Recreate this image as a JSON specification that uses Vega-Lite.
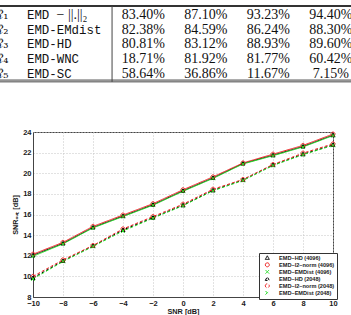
{
  "$schema": "https://vega.github.io/schema/vega-lite/v6.json",
  "width": 300,
  "height": 165,
  "autosize": "none",
  "padding": {"left": 33, "top": 132, "right": 18, "bottom": 18},
  "background": "white",
  "config": {
    "view": {"stroke": "#444", "strokeWidth": 1},
    "axis": {
      "domainColor": "#444",
      "domainWidth": 1,
      "grid": true,
      "gridColor": "#c4c4c4",
      "gridDash": [1, 2],
      "gridWidth": 1,
      "ticks": false,
      "labelOverlap": false,
      "labelFlush": false,
      "labelBound": false,
      "labelFont": "Liberation Sans",
      "labelFontSize": 7.5,
      "labelFontWeight": "bold",
      "labelColor": "#1a1a1a",
      "labelPadding": 2,
      "titleFont": "Liberation Sans",
      "titleFontSize": 7.3,
      "titleFontWeight": "bold",
      "titleColor": "#1a1a1a"
    }
  },
  "datasets": {
    "snr": [
      {"series": "EMD–HD (4096)", "snr": -10, "out": 12.05},
      {"series": "EMD–HD (4096)", "snr": -8, "out": 13.2},
      {"series": "EMD–HD (4096)", "snr": -6, "out": 14.75},
      {"series": "EMD–HD (4096)", "snr": -4, "out": 15.85},
      {"series": "EMD–HD (4096)", "snr": -2, "out": 16.95},
      {"series": "EMD–HD (4096)", "snr": 0, "out": 18.3},
      {"series": "EMD–HD (4096)", "snr": 2, "out": 19.55},
      {"series": "EMD–HD (4096)", "snr": 4, "out": 20.95},
      {"series": "EMD–HD (4096)", "snr": 6, "out": 21.75},
      {"series": "EMD–HD (4096)", "snr": 8, "out": 22.6},
      {"series": "EMD–HD (4096)", "snr": 10, "out": 23.7},
      {"series": "EMD–l2–norm (4096)", "snr": -10, "out": 12.15},
      {"series": "EMD–l2–norm (4096)", "snr": -8, "out": 13.3},
      {"series": "EMD–l2–norm (4096)", "snr": -6, "out": 14.85},
      {"series": "EMD–l2–norm (4096)", "snr": -4, "out": 15.95},
      {"series": "EMD–l2–norm (4096)", "snr": -2, "out": 17.05},
      {"series": "EMD–l2–norm (4096)", "snr": 0, "out": 18.4},
      {"series": "EMD–l2–norm (4096)", "snr": 2, "out": 19.65},
      {"series": "EMD–l2–norm (4096)", "snr": 4, "out": 21.0},
      {"series": "EMD–l2–norm (4096)", "snr": 6, "out": 21.85},
      {"series": "EMD–l2–norm (4096)", "snr": 8, "out": 22.7},
      {"series": "EMD–l2–norm (4096)", "snr": 10, "out": 23.8},
      {"series": "EMD–EMDist (4096)", "snr": -10, "out": 11.95},
      {"series": "EMD–EMDist (4096)", "snr": -8, "out": 13.15},
      {"series": "EMD–EMDist (4096)", "snr": -6, "out": 14.7},
      {"series": "EMD–EMDist (4096)", "snr": -4, "out": 15.8},
      {"series": "EMD–EMDist (4096)", "snr": -2, "out": 16.9},
      {"series": "EMD–EMDist (4096)", "snr": 0, "out": 18.25},
      {"series": "EMD–EMDist (4096)", "snr": 2, "out": 19.5},
      {"series": "EMD–EMDist (4096)", "snr": 4, "out": 20.9},
      {"series": "EMD–EMDist (4096)", "snr": 6, "out": 21.7},
      {"series": "EMD–EMDist (4096)", "snr": 8, "out": 22.55},
      {"series": "EMD–EMDist (4096)", "snr": 10, "out": 23.65},
      {"series": "EMD–HD (2048)", "snr": -10, "out": 9.85},
      {"series": "EMD–HD (2048)", "snr": -8, "out": 11.5},
      {"series": "EMD–HD (2048)", "snr": -6, "out": 12.95},
      {"series": "EMD–HD (2048)", "snr": -4, "out": 14.5},
      {"series": "EMD–HD (2048)", "snr": -2, "out": 15.7},
      {"series": "EMD–HD (2048)", "snr": 0, "out": 16.9},
      {"series": "EMD–HD (2048)", "snr": 2, "out": 18.35},
      {"series": "EMD–HD (2048)", "snr": 4, "out": 19.35},
      {"series": "EMD–HD (2048)", "snr": 6, "out": 20.8},
      {"series": "EMD–HD (2048)", "snr": 8, "out": 21.85},
      {"series": "EMD–HD (2048)", "snr": 10, "out": 22.75},
      {"series": "EMD–l2–norm (2048)", "snr": -10, "out": 10.0},
      {"series": "EMD–l2–norm (2048)", "snr": -8, "out": 11.6},
      {"series": "EMD–l2–norm (2048)", "snr": -6, "out": 13.0},
      {"series": "EMD–l2–norm (2048)", "snr": -4, "out": 14.6},
      {"series": "EMD–l2–norm (2048)", "snr": -2, "out": 15.8},
      {"series": "EMD–l2–norm (2048)", "snr": 0, "out": 17.0},
      {"series": "EMD–l2–norm (2048)", "snr": 2, "out": 18.45},
      {"series": "EMD–l2–norm (2048)", "snr": 4, "out": 19.4},
      {"series": "EMD–l2–norm (2048)", "snr": 6, "out": 20.85},
      {"series": "EMD–l2–norm (2048)", "snr": 8, "out": 21.95},
      {"series": "EMD–l2–norm (2048)", "snr": 10, "out": 22.85},
      {"series": "EMD–EMDist (2048)", "snr": -10, "out": 9.75},
      {"series": "EMD–EMDist (2048)", "snr": -8, "out": 11.45},
      {"series": "EMD–EMDist (2048)", "snr": -6, "out": 12.9},
      {"series": "EMD–EMDist (2048)", "snr": -4, "out": 14.4},
      {"series": "EMD–EMDist (2048)", "snr": -2, "out": 15.65},
      {"series": "EMD–EMDist (2048)", "snr": 0, "out": 16.85},
      {"series": "EMD–EMDist (2048)", "snr": 2, "out": 18.3},
      {"series": "EMD–EMDist (2048)", "snr": 4, "out": 19.3},
      {"series": "EMD–EMDist (2048)", "snr": 6, "out": 20.75},
      {"series": "EMD–EMDist (2048)", "snr": 8, "out": 21.8},
      {"series": "EMD–EMDist (2048)", "snr": 10, "out": 22.7}
    ],
    "table": [
      {"row": 1, "col": 0, "kind": "id", "text": "ℛ₁"},
      {"row": 1, "col": 1, "kind": "tt", "text": "EMD"},
      {"row": 1, "col": 1, "kind": "math", "text": "− ||.||₂"},
      {"row": 1, "col": 2, "kind": "num", "text": "83.40%"},
      {"row": 1, "col": 3, "kind": "num", "text": "87.10%"},
      {"row": 1, "col": 4, "kind": "num", "text": "93.23%"},
      {"row": 1, "col": 5, "kind": "num", "text": "94.40%"},
      {"row": 2, "col": 0, "kind": "id", "text": "ℛ₂"},
      {"row": 2, "col": 1, "kind": "tt", "text": "EMD-EMdist"},
      {"row": 2, "col": 2, "kind": "num", "text": "82.38%"},
      {"row": 2, "col": 3, "kind": "num", "text": "84.59%"},
      {"row": 2, "col": 4, "kind": "num", "text": "86.24%"},
      {"row": 2, "col": 5, "kind": "num", "text": "88.30%"},
      {"row": 3, "col": 0, "kind": "id", "text": "ℛ₃"},
      {"row": 3, "col": 1, "kind": "tt", "text": "EMD-HD"},
      {"row": 3, "col": 2, "kind": "num", "text": "80.81%"},
      {"row": 3, "col": 3, "kind": "num", "text": "83.12%"},
      {"row": 3, "col": 4, "kind": "num", "text": "88.93%"},
      {"row": 3, "col": 5, "kind": "num", "text": "89.60%"},
      {"row": 4, "col": 0, "kind": "id", "text": "ℛ₄"},
      {"row": 4, "col": 1, "kind": "tt", "text": "EMD-WNC"},
      {"row": 4, "col": 2, "kind": "num", "text": "18.71%"},
      {"row": 4, "col": 3, "kind": "num", "text": "81.92%"},
      {"row": 4, "col": 4, "kind": "num", "text": "81.77%"},
      {"row": 4, "col": 5, "kind": "num", "text": "60.42%"},
      {"row": 5, "col": 0, "kind": "id", "text": "ℛ₅"},
      {"row": 5, "col": 1, "kind": "tt", "text": "EMD-SC"},
      {"row": 5, "col": 2, "kind": "num", "text": "58.64%"},
      {"row": 5, "col": 3, "kind": "num", "text": "36.86%"},
      {"row": 5, "col": 4, "kind": "num", "text": "11.67%"},
      {"row": 5, "col": 5, "kind": "num", "text": "7.15%"}
    ]
  },
  "layer": [
    {
      "data": {"name": "snr"},
      "encoding": {
        "x": {"field": "snr", "type": "quantitative", "scale": {"domain": [-10, 10], "nice": false},
              "axis": {"values": [-10, -8, -6, -4, -2, 0, 2, 4, 6, 8, 10], "tickCount": 11, "title": "SNR [dB]", "titlePadding": 1,
                       "labelOverlap": false, "labelFlush": false, "labelBound": false}},
        "y": {"field": "out", "type": "quantitative", "scale": {"domain": [8, 24], "nice": false, "zero": false},
              "axis": {"values": [8, 10, 12, 14, 16, 18, 20, 22, 24], "tickCount": 9, "title": "SNRₒᵤₜ [dB]", "titlePadding": 3,
                       "labelOverlap": false, "labelFlush": false, "labelBound": false}}
      },
      "layer": [
        {
          "mark": {"type": "line", "strokeWidth": 1},
          "encoding": {
            "color": {
              "field": "series", "type": "nominal",
              "scale": {
                "domain": ["EMD–HD (4096)", "EMD–l2–norm (4096)", "EMD–EMDist (4096)", "EMD–HD (2048)", "EMD–l2–norm (2048)", "EMD–EMDist (2048)"],
                "range": ["#000000", "#ee2222", "#22dd22", "#000000", "#ee2222", "#22dd22"]
              },
              "legend": {
                "orient": "none", "legendX": 226, "legendY": 121, "title": null,
                "padding": 2, "rowPadding": -2, "fillColor": "white", "strokeColor": "#333", "cornerRadius": 0,
                "labelFont": "Liberation Sans", "labelFontSize": 5.6, "labelFontWeight": "bold", "labelColor": "#1a1a1a",
                "symbolSize": 16, "symbolStrokeWidth": 1, "symbolOffset": 3.5, "labelOffset": 9,
                "encode": {
                  "symbols": {
                    "update": {
                      "shape": {"signal": "indexof(datum.value, 'HD') >= 0 ? 'M-3,0H3M-1,0.8L0,-1L1,0.8Z' : indexof(datum.value, 'norm') >= 0 ? 'M-3,0H-1M1,0H3M-1,0A1,1,0,1,1,1,0A1,1,0,1,1,-1,0Z' : 'M-3,0H3M-0.9,-0.9L0.9,0.9M-0.9,0.9L0.9,-0.9'"},
                      "fill": {"value": "transparent"}
                    }
                  }
                }
              }
            },
            "strokeDash": {
              "field": "series", "type": "nominal",
              "scale": {
                "domain": ["EMD–HD (4096)", "EMD–l2–norm (4096)", "EMD–EMDist (4096)", "EMD–HD (2048)", "EMD–l2–norm (2048)", "EMD–EMDist (2048)"],
                "range": [[1, 0], [1, 0], [1, 0], [3, 2], [3, 2], [3, 2]]
              }
            }
          }
        },
        {
          "mark": {"type": "point", "filled": false, "size": 16, "strokeWidth": 1, "opacity": 1},
          "encoding": {
            "color": {"field": "series", "type": "nominal"},
            "shape": {
              "field": "series", "type": "nominal", "legend": null,
              "scale": {
                "domain": ["EMD–HD (4096)", "EMD–l2–norm (4096)", "EMD–EMDist (4096)", "EMD–HD (2048)", "EMD–l2–norm (2048)", "EMD–EMDist (2048)"],
                "range": ["M-1,0.8L0,-1L1,0.8Z", "M-1,0A1,1,0,1,1,1,0A1,1,0,1,1,-1,0Z", "M-0.9,-0.9L0.9,0.9M-0.9,0.9L0.9,-0.9", "M-1,0.8L0,-1L1,0.8Z", "M-1,0A1,1,0,1,1,1,0A1,1,0,1,1,-1,0Z", "M-0.9,-0.9L0.9,0.9M-0.9,0.9L0.9,-0.9"]
              }
            }
          }
        }
      ]
    },
    {
      "data": {"name": "table"},
      "layer": [
        {
          "data": {"values": [{}]},
          "mark": {"type": "rule", "color": "#333", "strokeWidth": 2},
          "encoding": {
            "x": {"datum": -0.3, "type": "quantitative", "scale": {"domain": [0, 5], "range": [-14.7, 297.8]}, "axis": null},
            "x2": {"datum": 5.4},
            "y": {"datum": 0.4, "type": "quantitative", "scale": {"domain": [0.4, 5.6], "range": [-132, -43.2]}, "axis": null}
          }
        },
        {
          "data": {"values": [{}]},
          "mark": {"type": "rule", "color": "#444", "strokeWidth": 1},
          "encoding": {
            "x": {"datum": -0.3, "type": "quantitative"},
            "x2": {"datum": 5.4},
            "y": {"datum": 5.41, "type": "quantitative"}
          }
        },
        {
          "data": {"values": [{}]},
          "mark": {"type": "rule", "color": "#444", "strokeWidth": 1},
          "encoding": {
            "x": {"datum": -0.3, "type": "quantitative"},
            "x2": {"datum": 5.4},
            "y": {"datum": 5.53, "type": "quantitative"}
          }
        },
        {
          "data": {"values": [{}]},
          "mark": {"type": "rule", "color": "#444", "strokeWidth": 1},
          "encoding": {
            "x": {"datum": 1.5, "type": "quantitative"},
            "y": {"datum": 0.4, "type": "quantitative"},
            "y2": {"datum": 5.53}
          }
        },
        {
          "transform": [{"filter": "datum.kind === 'id'"}],
          "mark": {"type": "text", "align": "right", "baseline": "middle", "dx": -9.8, "font": "DejaVu Serif", "fontSize": 13, "color": "#111"},
          "encoding": {
            "x": {"field": "col", "type": "quantitative"},
            "y": {"field": "row", "type": "quantitative"},
            "text": {"field": "text"}
          }
        },
        {
          "transform": [{"filter": "datum.kind === 'tt'"}],
          "mark": {"type": "text", "align": "left", "baseline": "middle", "dx": -53.8, "font": "Liberation Mono", "fontSize": 12.4, "color": "#111"},
          "encoding": {
            "x": {"field": "col", "type": "quantitative"},
            "y": {"field": "row", "type": "quantitative"},
            "text": {"field": "text"}
          }
        },
        {
          "transform": [{"filter": "datum.kind === 'math'"}],
          "mark": {"type": "text", "align": "left", "baseline": "middle", "dx": -24.3, "font": "Liberation Serif", "fontSize": 14, "color": "#111"},
          "encoding": {
            "x": {"field": "col", "type": "quantitative"},
            "y": {"field": "row", "type": "quantitative"},
            "text": {"field": "text"}
          }
        },
        {
          "transform": [{"filter": "datum.kind === 'num'"}],
          "mark": {"type": "text", "align": "center", "baseline": "middle", "font": "Liberation Serif", "fontSize": 14, "color": "#111"},
          "encoding": {
            "x": {"field": "col", "type": "quantitative"},
            "y": {"field": "row", "type": "quantitative"},
            "text": {"field": "text"}
          }
        }
      ]
    }
  ],
  "resolve": {"scale": {"x": "independent", "y": "independent"}}
}
